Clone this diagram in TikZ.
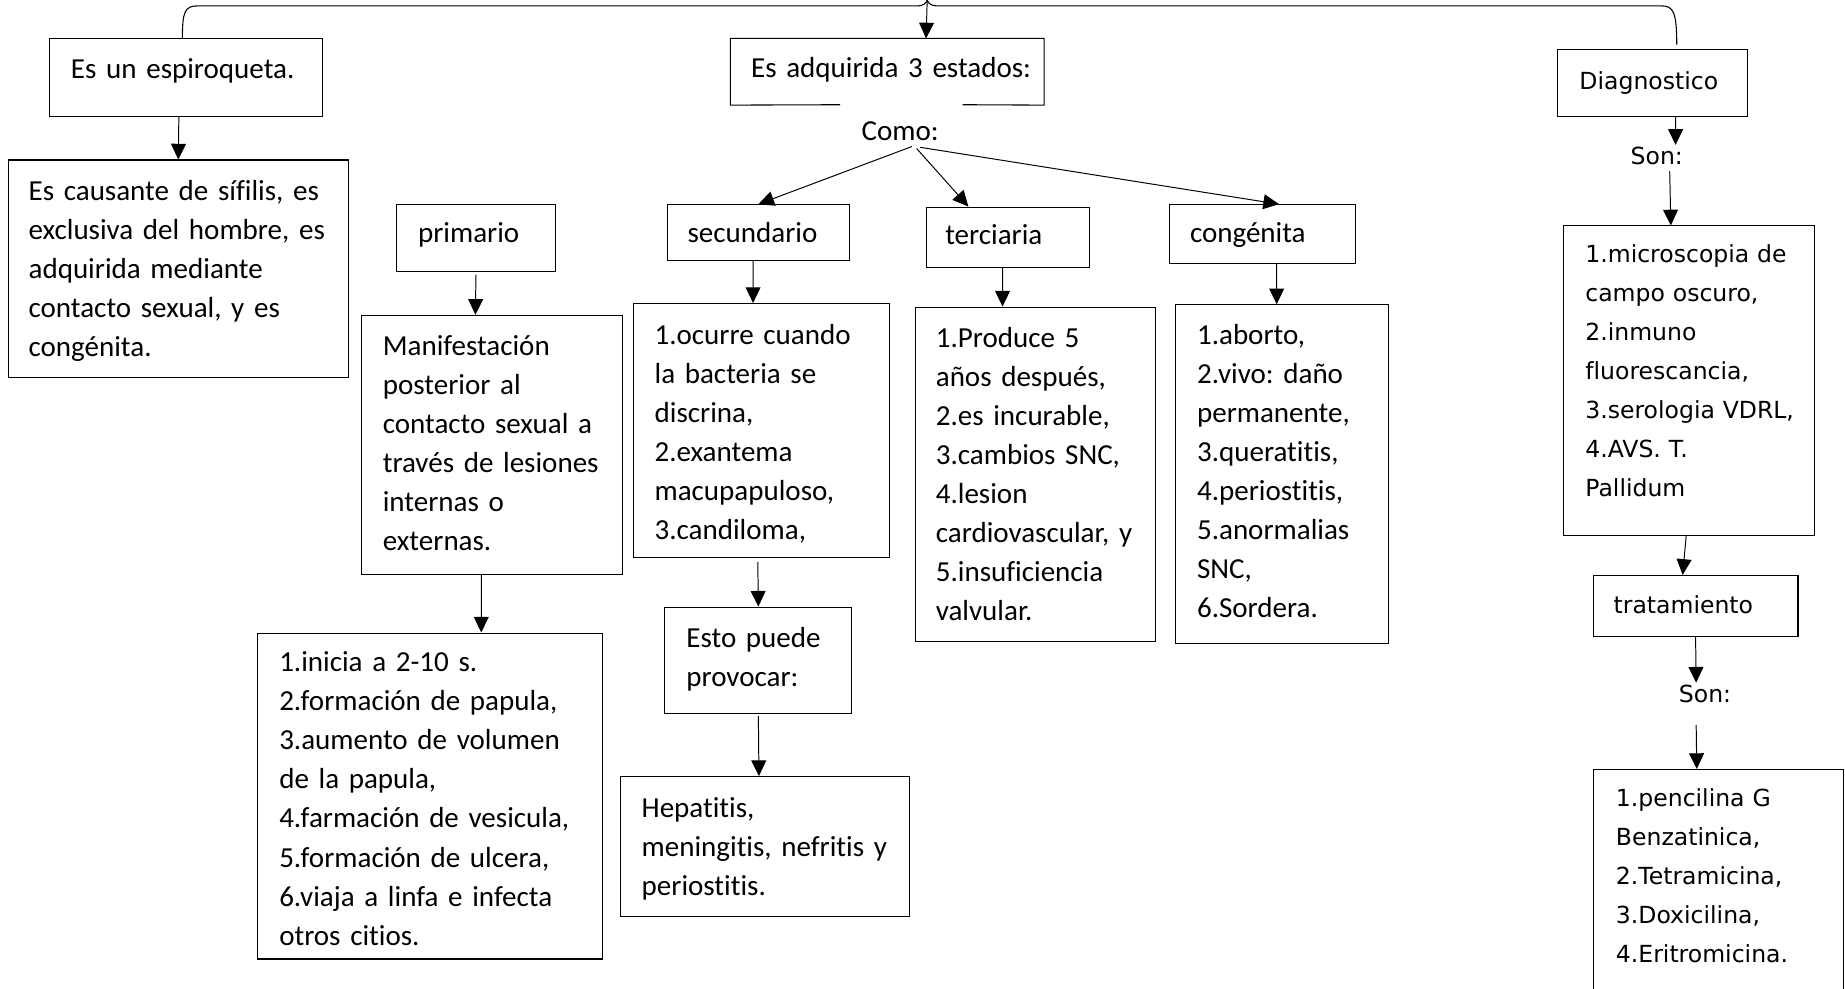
\documentclass[tikz,border=0pt]{standalone}
\usepackage{fontspec}
\setmainfont{Carlito}[Ligatures=NoCommon]
\newfontfamily\verdfont{DejaVu Sans}[Ligatures=NoCommon]
\usetikzlibrary{arrows.meta,fit,calc}
\frenchspacing

\begin{document}
\begin{tikzpicture}[x=0.6pt, y=-0.6pt,
  box/.style={draw, line width=0.55pt, inner sep=0pt},
  txt/.style={anchor=base west, inner sep=0pt, align=left, text width=220pt, font=\fontsize{14.8}{19.9}\selectfont},
  vtxt/.style={txt, font=\verdfont\fontsize{12}{19.9}\selectfont},
  lbl/.style={anchor=base, inner sep=1pt, font=\fontsize{14.8}{19.9}\selectfont},
  vlbl/.style={lbl, font=\verdfont\fontsize{12}{19.9}\selectfont},
  arr/.style={-{Triangle[length=8pt, width=7.6pt]}, line width=0.5pt}]
\useasboundingbox (0,0) rectangle (1568,840);

\node[box, fit={(42,33) (274,99)}] (esp) {};
\node[box, fit={(7,136) (296,321)}] (caus) {};
\node[box, fit={(337,174) (472,231)}] (prim) {};
\node[box, fit={(307,268) (529,488)}] (man) {};
\node[box, fit={(219,538) (512,815)}] (ini) {};
\node[inner sep=0pt, fit={(621,33) (887,89)}] (adq) {};
\node[box, fit={(567,174) (722,221)}] (sec) {};
\node[box, fit={(787,176) (926,227)}] (ter) {};
\node[box, fit={(994,174) (1152,224)}] (cong) {};
\node[box, fit={(538,258) (756,474)}] (secC) {};
\node[box, fit={(778,261) (982,545)}] (terC) {};
\node[box, fit={(999,259) (1180,547)}] (congC) {};
\node[box, fit={(565,516) (724,606)}] (esto) {};
\node[box, fit={(527,660) (773,779)}] (hep) {};
\node[box, fit={(1324,42) (1485,99)}] (diag) {};
\node[box, fit={(1329,192) (1542,455)}] (diagC) {};
\node[box, fit={(1354,489) (1528,541)}] (trat) {};
\node[box, fit={(1354,654) (1567,850)}] (tratC) {};

\draw[line width=0.55pt] (714,89) -- (adq.south west) -- (adq.north west) -- (adq.north east) -- (adq.south east) -- (818,89);

\node[txt] (espT) at (60,67) {Es un espiroqueta.};
\node[txt] (causT) at (24,170) {Es causante de sífilis, es\\exclusiva del hombre, es\\adquirida mediante\\contacto sexual, y es\\congénita.};
\node[txt] (primT) at (355,206) {primario};
\node[txt] (manT) at (325,302) {Manifestación\\posterior al\\contacto sexual a\\través de lesiones\\internas o\\externas.};
\node[txt] (iniT) at (237,571) {1.inicia a 2-10 s.\\2.formación de papula,\\3.aumento de volumen\\de la papula,\\4.farmación de vesicula,\\5.formación de ulcera,\\6.viaja a linfa e infecta\\otros citios.};
\node[txt] (adqT) at (638,66) {Es adquirida 3 estados:};
\node[lbl] (como) at (765,119) {Como:};
\node[txt] (secT) at (584,206) {secundario};
\node[txt] (terT) at (803,208) {terciaria};
\node[txt] (congT) at (1011,206) {congénita};
\node[txt] (secCT) at (556,293) {1.ocurre cuando\\la bacteria se\\discrina,\\2.exantema\\macupapuloso,\\3.candiloma,};
\node[txt] (terCT) at (795,295) {1.Produce 5\\años después,\\2.es incurable,\\3.cambios SNC,\\4.lesion\\cardiovascular, y\\5.insuficiencia\\valvular.};
\node[txt] (congCT) at (1017,293) {1.aborto,\\2.vivo: daño\\permanente,\\3.queratitis,\\4.periostitis,\\5.anormalias\\SNC,\\6.Sordera.};
\node[txt] (estoT) at (583,550) {Esto puede\\provocar:};
\node[txt] (hepT) at (545,695) {Hepatitis,\\meningitis, nefritis y\\periostitis.};
\node[vtxt] (diagT) at (1342,76) {Diagnostico};
\node[vlbl] (son1) at (1408,140) {Son:};
\node[vtxt] (diagCT) at (1347,223) {1.microscopia de\\campo oscuro,\\2.inmuno\\fluorescancia,\\3.serologia VDRL,\\4.AVS. T.\\Pallidum};
\node[vtxt] (tratT) at (1371,521) {tratamiento};
\node[vlbl] (son2) at (1449,597) {Son:};
\node[vtxt] (tratCT) at (1373,685) {1.pencilina G\\Benzatinica,\\2.Tetramicina,\\3.Doxicilina,\\4.Eritromicina.};

\coordinate (btip) at (788,0);
\draw[line width=0.55pt] ([xshift=-1.8pt]esp.north) .. controls (155,10) and (157,5) .. (168,5) -- (779,5)
  .. controls (785,5) and (787,3) .. (btip) .. controls (789,3) and (791,5) .. (797,5) -- (1412,5)
  .. controls (1422,5) and (1425,10) .. (1425,38);

\draw[arr] (btip) -- ([xshift=19.8pt]adq.north);
\draw[arr] ([xshift=-3.6pt]esp.south) -- (caus.north);
\draw[arr] ([yshift=-1.2pt]prim.south) -- ([xshift=-8.4pt]man.north);
\draw[arr] ([xshift=-5.4pt]man.south) -- ([xshift=26.1pt]ini.north);
\draw[arr] ([xshift=6pt,yshift=-2pt]como.south) -- (sec.north);
\draw[arr] ([xshift=8.4pt,yshift=-3pt]como.south) -- ([xshift=-20.1pt]ter.north);
\draw[arr] ([xshift=10.2pt,yshift=-2.4pt]como.south) -- ([xshift=8.4pt]cong.north);
\draw[arr] ([xshift=-2.7pt]sec.south) -- ([xshift=-4.2pt]secC.north);
\draw[arr] ([xshift=-2.7pt]ter.south) -- ([xshift=-16.8pt]terC.north);
\draw[arr] ([xshift=7.2pt]cong.south) -- ([xshift=-2.7pt]congC.north);
\draw[arr] ([xshift=-1.8pt,yshift=-1.8pt]secC.south) -- (esto.north);
\draw[arr] ([yshift=-1.2pt]esto.south) -- ([xshift=-3pt]hep.north);
\draw[arr] ([xshift=11.7pt]diag.south) -- ([xshift=9.6pt]son1.north);
\draw[arr] ([xshift=6.6pt,yshift=-2pt]son1.south) -- ([xshift=-9.3pt]diagC.north);
\draw[arr] ([xshift=-1.5pt]diagC.south) -- ([xshift=-6.6pt]trat.north);
\draw[arr] (trat.south) -- ([xshift=-4.5pt]son2.north);
\draw[arr] ([xshift=-4.5pt,yshift=-10pt]son2.south) -- ([xshift=-11.1pt]tratC.north);
\end{tikzpicture}
\end{document}
